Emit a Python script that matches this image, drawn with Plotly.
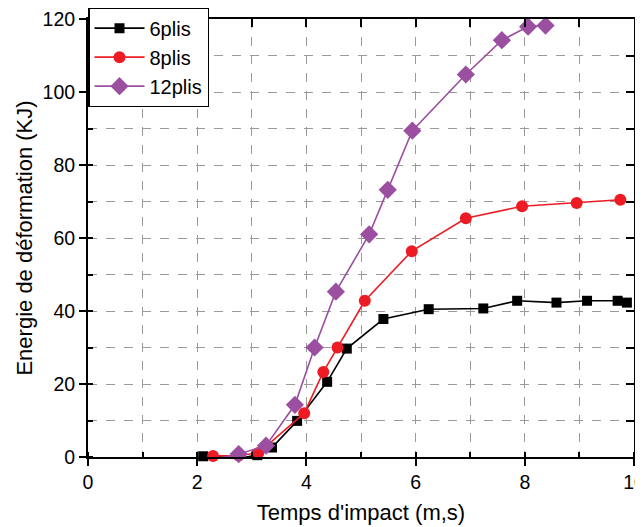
import plotly.graph_objects as go

# Data
t6 = [2.11, 2.82, 3.10, 3.37, 3.83, 4.38, 4.74, 5.41, 6.24, 7.24, 7.86, 8.58, 9.14, 9.70, 9.87]
e6 = [0.2, -0.2, 0.5, 2.6, 9.9, 20.6, 29.7, 37.8, 40.5, 40.7, 42.8, 42.3, 42.8, 42.8, 42.3]

t8 = [2.29, 2.76, 3.12, 3.96, 4.31, 4.57, 5.07, 5.93, 6.92, 7.95, 8.95, 9.75]
e8 = [0.3, 0.4, 1.1, 12.0, 23.3, 30.0, 42.8, 56.4, 65.4, 68.7, 69.6, 70.5]

t12 = [2.41, 2.76, 3.26, 3.79, 4.15, 4.54, 5.15, 5.49, 5.94, 6.92, 7.58, 8.06, 8.38]
e12 = [-0.3, 0.8, 3.1, 14.3, 30.0, 45.3, 61.0, 73.2, 89.4, 104.8, 114.2, 117.9, 118.2]

x_range = [0, 10]
y_range = [0, 120]
x_title = "Temps d'impact (m,s)"
y_title = "Energie de déformation (KJ)"

FONT = "Liberation Sans, Arial, sans-serif"
BLACK = "#000000"
RED = "#ED1C24"
PURPLE = "#9A4FA0"

fig = go.Figure()
fig.add_trace(go.Scatter(x=t6, y=e6, name="6plis", mode="lines+markers",
                         line=dict(color=BLACK, width=1.6), cliponaxis=False,
                         marker=dict(symbol="square", size=10, color=BLACK)))
fig.add_trace(go.Scatter(x=t8, y=e8, name="8plis", mode="lines+markers",
                         line=dict(color=RED, width=1.6), cliponaxis=False,
                         marker=dict(symbol="circle", size=12, color=RED)))
fig.add_trace(go.Scatter(x=t12, y=e12, name="12plis", mode="lines+markers",
                         line=dict(color=PURPLE, width=1.6), cliponaxis=False,
                         marker=dict(symbol="diamond", size=14, color=PURPLE)))
# invisible trace to anchor the mirrored (top/right) axes
fig.add_trace(go.Scatter(x=[None], y=[None], xaxis="x2", yaxis="y2",
                         showlegend=False, hoverinfo="skip"))

GRID = "#9a9a9a"

# the page has an 8px body margin, so the margins below compensate for it
fig.update_layout(
    width=643, height=527,
    margin=dict(l=80, r=17, t=11, b=78, autoexpand=False),
    plot_bgcolor="white", paper_bgcolor="white",
    font=dict(family=FONT, color="black", size=18),
    showlegend=True,
    legend=dict(x=0, y=1.027, xanchor="left", yanchor="top",
                bgcolor="white", bordercolor="black", borderwidth=1.5,
                font=dict(family=FONT, size=20, color="black"),
                tracegroupgap=0, itemwidth=50),
    xaxis=dict(range=x_range, dtick=2, tick0=0, automargin=False,
               ticklabeloverflow="allow",
               showline=True, linecolor="black", linewidth=2,
               ticks="outside", ticklen=7, tickwidth=1.5, tickcolor="black",
               tickfont=dict(size=19.5, family=FONT),
               title=dict(text=x_title, font=dict(size=22, family=FONT), standoff=12),
               zeroline=False,
               showgrid=True, gridcolor=GRID, griddash="dash", gridwidth=1,
               minor=dict(dtick=1, ticks="inside", ticklen=5, tickwidth=1.5,
                          tickcolor="black", showgrid=True, gridcolor=GRID,
                          griddash="dash", gridwidth=1)),
    yaxis=dict(range=y_range, dtick=20, tick0=0, automargin=False,
               ticklabeloverflow="allow",
               showline=True, linecolor="black", linewidth=2,
               ticks="outside", ticklen=7, tickwidth=1.5, tickcolor="black",
               tickfont=dict(size=19.5, family=FONT),
               title=dict(text=y_title, font=dict(size=22, family=FONT), standoff=4),
               zeroline=False,
               showgrid=True, gridcolor=GRID, griddash="dash", gridwidth=1,
               minor=dict(dtick=10, ticks="inside", ticklen=5, tickwidth=1.5,
                          tickcolor="black", showgrid=True, gridcolor=GRID,
                          griddash="dash", gridwidth=1)),
    xaxis2=dict(range=x_range, overlaying="x", side="top", anchor="y2", automargin=False,
                showline=True, linecolor="black", linewidth=2,
                ticks="inside", ticklen=8, tickwidth=1.5, tickcolor="black",
                dtick=1, tick0=0, showticklabels=False, showgrid=False, zeroline=False),
    yaxis2=dict(range=y_range, overlaying="y", side="right", anchor="x2", automargin=False,
                showline=True, linecolor="black", linewidth=2,
                ticks="inside", ticklen=8, tickwidth=1.5, tickcolor="black",
                dtick=10, tick0=0, showticklabels=False, showgrid=False, zeroline=False),
)

fig.write_html("out.html")
